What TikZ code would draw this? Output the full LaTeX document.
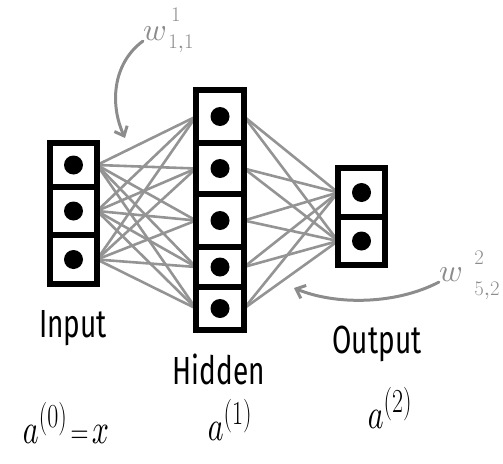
\documentclass[tikz,border=0pt]{standalone}
\usepackage{fontspec}
\usepackage{graphicx}
\newfontfamily\handfont{Fira Sans}
% let the math letters scale freely to large sizes
\DeclareFontShape{OML}{cmm}{m}{it}{<->cmmi10}{\skewchar\font'177}
\DeclareFontShape{OMS}{cmsy}{m}{n}{<->cmsy10}{\skewchar\font'60}
\usetikzlibrary{arrows.meta}
\pgfdeclarelayer{bg}
\pgfsetlayers{bg,main}
\definecolor{wire}{gray}{0.58}
\definecolor{note}{gray}{0.55}
\newcommand{\tallword}[1]{\scalebox{1}[1.4]{#1}}
\newcommand{\layerno}[1]{\mbox{\fontsize{24}{24}\selectfont(#1)}}
\tikzset{
  cell/.style={draw=black, line width=6.5pt, minimum width=47pt, inner sep=0pt, outer sep=0pt},
  dot/.style={circle, fill=black, minimum size=19pt, inner sep=0pt},
  wireline/.style={draw=wire, line width=2.6pt},
  word/.style={font=\handfont\fontsize{28}{30}\selectfont, inner sep=0pt},
  mathlbl/.style={font=\fontsize{30}{32}\selectfont, inner sep=0pt},
  weight/.style={text=note, font=\fontsize{32}{34}\selectfont, inner sep=0pt},
  index/.style={text=note, font=\fontsize{22}{23}\selectfont, inner sep=0pt},
  pointer/.style={draw=note, line width=3pt, line cap=round, -{Straight Barb[length=8pt,width=14pt,line width=3pt]}}
}
\begin{document}
\begin{tikzpicture}[x=1pt,y=-1pt]
\useasboundingbox (0,0) rectangle (503,463);

% input layer
\node[cell, minimum height=44pt] (i1) at (73.5,165) {};
\node[cell, minimum height=48pt] (i2) at (73.5,211) {};
\node[cell, minimum height=49pt] (i3) at (73.5,259.5) {};

% hidden layer
\node[cell, minimum width=48pt, minimum height=53pt] (h1) at (220,116.5) {};
\node[cell, minimum width=48pt, minimum height=51pt] (h2) at (220,168.5) {};
\node[cell, minimum width=48pt, minimum height=53pt] (h3) at (220,220.5) {};
\node[cell, minimum width=48pt, minimum height=40pt] (h4) at (220,267) {};
\node[cell, minimum width=48pt, minimum height=43pt] (h5) at (220,308.5) {};

% output layer
\node[cell, minimum height=49pt] (o1) at (361.5,192.5) {};
\node[cell, minimum height=48pt] (o2) at (361.5,241) {};

% activations
\foreach \n in {i1,i2,i3,h1,h2,h3,h4,h5,o1,o2}
  \node[dot] (\n d) at (\n) {};

% weights
\begin{pgfonlayer}{bg}
  \foreach \a in {1,2,3}
    \foreach \b in {1,...,5}
      \draw[wireline] (i\a.east) -- (h\b.west);
  \foreach \b in {1,...,5}
    \foreach \c in {1,2}
      \draw[wireline] (h\b.east) -- (o\c.west);
\end{pgfonlayer}

% layer names
\node[word] (lin) at (73,328) {\tallword{Input}};
\node[word] (lhid) at (219,369) {\tallword{Hidden}};
\node[word] (lout) at (377,344) {\tallword{Output}};

% activation vectors
\node[mathlbl] (a0) at (66,423) {\tallword{$a^{\layerno{0}}\!=\!x$}};
\node[mathlbl] (a1) at (230,420) {\tallword{$a^{\layerno{1}}$}};
\node[mathlbl] (a2) at (390,408) {\tallword{$a^{\layerno{2}}$}};

% weight annotations: letter, layer index above, unit indices below
\node[weight] (w1) at (155,34) {$w$};
\node[index] (w1up) at (176,15) {$1$};
\node[index] (w1dn) at (181,44) {$1{,}1$};
\node[weight] (w2) at (451,275) {$w$};
\node[index] (w2up) at (479,258) {$2$};
\node[index] (w2dn) at (487,291) {$5{,}2$};
\coordinate (t1) at (125,138);
\coordinate (t2) at (294,288);
\draw[pointer] (w1.south west) .. controls (112,64) and (110,105) .. (t1);
\draw[pointer] (w2.south west) .. controls (395,305) and (335,305) .. (t2);
\end{tikzpicture}
\end{document}
